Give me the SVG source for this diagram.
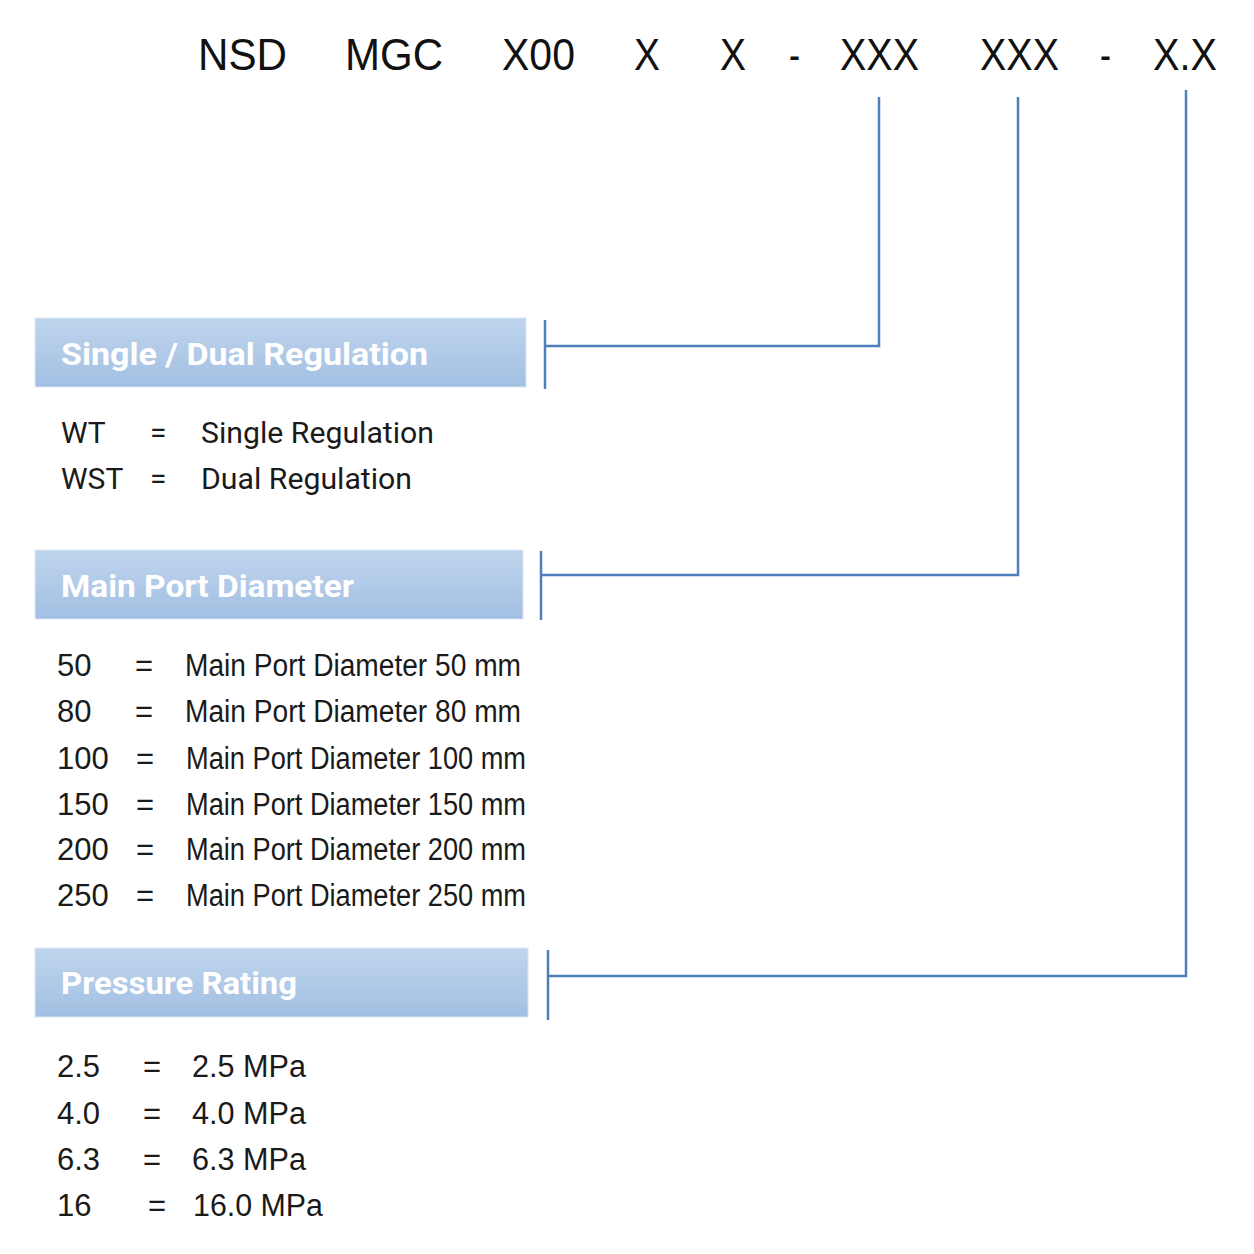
<svg xmlns="http://www.w3.org/2000/svg" width="1254" height="1254" viewBox="0 0 1254 1254">
<defs>
<linearGradient id="bar" x1="0" y1="0" x2="0" y2="1">
<stop offset="0" stop-color="#bfd5ed"/>
<stop offset="1" stop-color="#a2bfe2"/>
</linearGradient>
<style>
.code{font-family:"Liberation Sans",Arial,sans-serif;font-size:45px;fill:#111}
.hd{font-family:Roboto,"Liberation Sans",sans-serif;font-weight:bold;font-size:32px;fill:#ffffff}
.rb{font-family:Roboto,"Liberation Sans",sans-serif;font-size:30px;fill:#1a1a1a}
.ar{font-family:"Liberation Sans",Arial,sans-serif;font-size:31px;fill:#1a1a1a}
.ln{fill:none;stroke:#4f7fba;stroke-width:2.5}
.bx{fill:url(#bar);stroke:#dbe7f5;stroke-width:1}
</style>
</defs>
<rect width="1254" height="1254" fill="#ffffff"/>
<g id="code">
<text class="code" x="198" y="70" textLength="89" lengthAdjust="spacingAndGlyphs">NSD</text>
<text class="code" x="345" y="70" textLength="98" lengthAdjust="spacingAndGlyphs">MGC</text>
<text class="code" x="502" y="70" textLength="73" lengthAdjust="spacingAndGlyphs">X00</text>
<text class="code" x="634" y="70" textLength="26" lengthAdjust="spacingAndGlyphs">X</text>
<text class="code" x="720" y="70" textLength="26" lengthAdjust="spacingAndGlyphs">X</text>
<text class="code" x="789" y="70" textLength="11" lengthAdjust="spacingAndGlyphs">-</text>
<text class="code" x="840" y="70" textLength="79" lengthAdjust="spacingAndGlyphs">XXX</text>
<text class="code" x="980" y="70" textLength="79" lengthAdjust="spacingAndGlyphs">XXX</text>
<text class="code" x="1100" y="70" textLength="11" lengthAdjust="spacingAndGlyphs">-</text>
<text class="code" x="1153" y="70" textLength="64" lengthAdjust="spacingAndGlyphs">X.X</text>
</g>
<g id="connectors">
<polyline class="ln" points="879,97 879,346 545,346"/>
<line class="ln" x1="545" y1="320" x2="545" y2="389"/>
<polyline class="ln" points="1018,97 1018,575 541,575"/>
<line class="ln" x1="541" y1="551" x2="541" y2="620"/>
<polyline class="ln" points="1186,90 1186,976 548,976"/>
<line class="ln" x1="548" y1="950" x2="548" y2="1020"/>
</g>
<g id="single-dual">
<rect class="bx" x="35" y="318" width="491" height="69"/>
<text class="hd" x="61" y="365" textLength="367" lengthAdjust="spacingAndGlyphs">Single / Dual Regulation</text>
<text class="rb" x="61" y="443">WT</text>
<text class="rb" x="150" y="443">=</text>
<text class="rb" x="201" y="443" textLength="233" lengthAdjust="spacingAndGlyphs">Single Regulation</text>
<text class="rb" x="61" y="489">WST</text>
<text class="rb" x="150" y="489">=</text>
<text class="rb" x="201" y="489" textLength="211" lengthAdjust="spacingAndGlyphs">Dual Regulation</text>
</g>
<g id="main-port">
<rect class="bx" x="35" y="550" width="488" height="69"/>
<text class="hd" x="61" y="597" textLength="293" lengthAdjust="spacingAndGlyphs">Main Port Diameter</text>
<text class="ar" x="57" y="676">50</text><text class="ar" x="135" y="676">=</text><text class="ar" x="185" y="676" textLength="336" lengthAdjust="spacingAndGlyphs">Main Port Diameter 50 mm</text>
<text class="ar" x="57" y="722">80</text><text class="ar" x="135" y="722">=</text><text class="ar" x="185" y="722" textLength="336" lengthAdjust="spacingAndGlyphs">Main Port Diameter 80 mm</text>
<text class="ar" x="57" y="769">100</text><text class="ar" x="136" y="769">=</text><text class="ar" x="186" y="769" textLength="340" lengthAdjust="spacingAndGlyphs">Main Port Diameter 100 mm</text>
<text class="ar" x="57" y="815">150</text><text class="ar" x="136" y="815">=</text><text class="ar" x="186" y="815" textLength="340" lengthAdjust="spacingAndGlyphs">Main Port Diameter 150 mm</text>
<text class="ar" x="57" y="860">200</text><text class="ar" x="136" y="860">=</text><text class="ar" x="186" y="860" textLength="340" lengthAdjust="spacingAndGlyphs">Main Port Diameter 200 mm</text>
<text class="ar" x="57" y="906">250</text><text class="ar" x="136" y="906">=</text><text class="ar" x="186" y="906" textLength="340" lengthAdjust="spacingAndGlyphs">Main Port Diameter 250 mm</text>
</g>
<g id="pressure">
<rect class="bx" x="35" y="948" width="493" height="69"/>
<text class="hd" x="61" y="994" textLength="236" lengthAdjust="spacingAndGlyphs">Pressure Rating</text>
<text class="ar" x="57" y="1077">2.5</text><text class="ar" x="143" y="1077">=</text><text class="ar" x="192" y="1077" textLength="114" lengthAdjust="spacingAndGlyphs">2.5 MPa</text>
<text class="ar" x="57" y="1124">4.0</text><text class="ar" x="143" y="1124">=</text><text class="ar" x="192" y="1124" textLength="114" lengthAdjust="spacingAndGlyphs">4.0 MPa</text>
<text class="ar" x="57" y="1170">6.3</text><text class="ar" x="143" y="1170">=</text><text class="ar" x="192" y="1170" textLength="114" lengthAdjust="spacingAndGlyphs">6.3 MPa</text>
<text class="ar" x="57" y="1216">16</text><text class="ar" x="148" y="1216">=</text><text class="ar" x="193" y="1216" textLength="130" lengthAdjust="spacingAndGlyphs">16.0 MPa</text>
</g>
</svg>
